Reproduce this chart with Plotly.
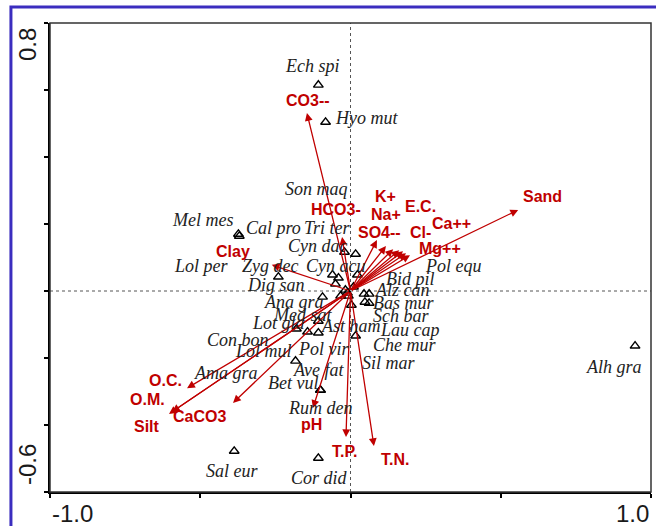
import plotly.graph_objects as go

# ---- Species scores (axis 1, axis 2) ----
species = ["Ech spi", "Hyo mut", "Mel mes", "Cal pro", "Son maq", "Tri ter",
           "Cyn dac", "Zyg dec", "Lol per", "Cyn acu", "Dig san", "Pol equ",
           "Bid pil", "Alz can", "Bas mur", "Sch bar", "Ana gra", "Lau cap",
           "Med sat", "Lot gla", "Con bon", "Lol mul", "Ast ham", "Che mur",
           "Pol vir", "Sil mar", "Ave fat", "Ama gra", "Bet vul", "Rum den",
           "Alh gra", "Sal eur", "Cor did"]
sp_x = [-0.107, -0.083, -0.373, -0.370, -0.020, 0.017,
        -0.060, -0.040, -0.050, 0.023, -0.240, 0.045,
        0.062, 0.048, 0.062, -0.007, -0.093, 0.003,
        -0.107, -0.180, -0.143, -0.107, 0.017, -0.017,
        -0.033, 0.010, -0.183, -0.010, -0.100, -0.100,
        0.947, -0.387, -0.107]
sp_y = [0.615, 0.504, 0.170, 0.164, 0.116, 0.110,
        0.048, 0.039, 0.021, 0.048, 0.042, -0.009,
        -0.009, -0.033, -0.036, -0.015, -0.018, -0.042,
        -0.090, -0.113, -0.122, -0.125, -0.134, 0.003,
        -0.015, 0.012, -0.209, -0.006, -0.296, -0.296,
        -0.164, -0.478, -0.499]

# ---- Environmental variable biplot scores ----
env = ["CO3--", "HCO3-", "Clay", "SO4--", "K+", "Na+", "E.C.", "Cl-", "Ca++",
       "Mg++", "Sand", "O.C.", "O.M.", "Silt", "CaCO3", "pH", "T.P.", "T.N."]
env_x = [-0.145, -0.028, -0.262, 0.088, 0.118, 0.142, 0.162, 0.175, 0.185,
         0.198, 0.558, -0.544, -0.594, -0.604, -0.391, -0.125, -0.015, 0.078]
env_y = [0.531, 0.161, 0.078, 0.152, 0.134, 0.125, 0.122, 0.119, 0.113,
         0.107, 0.242, -0.290, -0.361, -0.367, -0.334, -0.349, -0.436, -0.463]

# ---- Axis ticks ----
x_ticks = [-1.0, -0.5, 0.0, 0.5, 1.0]
y_ticks = [-0.6, -0.4, -0.2, 0.0, 0.2, 0.4, 0.6, 0.8]
x_range = [-1.0, 1.0]
y_range = [-0.6, 0.8]

# label placement (data units) for species names
sp_label_pos = {
    "Ech spi": (-0.127, 0.672), "Hyo mut": (0.052, 0.516), "Son maq": (-0.113, 0.304),
    "Mel mes": (-0.493, 0.212), "Cal pro": (-0.257, 0.188), "Tri ter": (-0.077, 0.188),
    "Cyn dac": (-0.110, 0.134), "Lol per": (-0.497, 0.075), "Zyg dec": (-0.267, 0.075),
    "Cyn acu": (-0.050, 0.075), "Pol equ": (0.343, 0.075), "Bid pil": (0.200, 0.036),
    "Alz can": (0.173, 0.003), "Dig san": (-0.247, 0.018), "Ana gra": (-0.187, -0.033),
    "Bas mur": (0.177, -0.036), "Med sat": (-0.160, -0.072), "Sch bar": (0.167, -0.075),
    "Lot gla": (-0.240, -0.096), "Ast ham": (0.000, -0.104), "Lau cap": (0.197, -0.116),
    "Con bon": (-0.373, -0.146), "Che mur": (0.180, -0.161), "Lol mul": (-0.290, -0.179),
    "Pol vir": (-0.090, -0.173), "Sil mar": (0.127, -0.215), "Ave fat": (-0.107, -0.236),
    "Ama gra": (-0.413, -0.245), "Bet vul": (-0.193, -0.275), "Rum den": (-0.100, -0.349),
    "Alh gra": (0.877, -0.227), "Sal eur": (-0.393, -0.537), "Cor did": (-0.103, -0.558),
}
# label placement (data units) for environmental variables
env_label_pos = {
    "CO3--": (-0.140, 0.570), "HCO3-": (-0.048, 0.242), "Clay": (-0.390, 0.119),
    "SO4--": (0.098, 0.176), "K+": (0.118, 0.281), "Na+": (0.118, 0.227),
    "E.C.": (0.232, 0.251), "Cl-": (0.232, 0.176), "Ca++": (0.335, 0.203),
    "Mg++": (0.298, 0.128), "Sand": (0.638, 0.281), "O.C.": (-0.617, -0.266),
    "O.M.": (-0.677, -0.325), "Silt": (-0.677, -0.403), "CaCO3": (-0.503, -0.376),
    "pH": (-0.130, -0.397), "T.P.": (-0.017, -0.478), "T.N.": (0.147, -0.504),
}

RED = "#c00000"
TXT = "#222222"

fig = go.Figure()

# species as open triangles
fig.add_trace(go.Scatter(
    x=sp_x, y=sp_y, mode="markers", hoverinfo="text", text=species,
    marker=dict(symbol="triangle-up-open", size=8.5, color="black",
                line=dict(width=1.4, color="black")),
    showlegend=False, cliponaxis=False))

annotations = []

# environmental arrows from the origin
for name, ex, ey in zip(env, env_x, env_y):
    annotations.append(dict(
        x=ex, y=ey, ax=0, ay=0, xref="x", yref="y", axref="x", ayref="y",
        showarrow=True, arrowhead=2, arrowsize=1.2, arrowwidth=1.3,
        arrowcolor=RED, standoff=0, startstandoff=0, text=""))

# species names (italic serif)
for name in species:
    lx, ly = sp_label_pos[name]
    annotations.append(dict(
        x=lx, y=ly, xref="x", yref="y", text="<i>%s</i>" % name, showarrow=False,
        font=dict(family="Liberation Serif", size=18, color=TXT),
        xanchor="center", yanchor="middle"))

# environmental variable names
for name in env:
    lx, ly = env_label_pos[name]
    annotations.append(dict(
        x=lx, y=ly, xref="x", yref="y", text="<b>%s</b>" % name, showarrow=False,
        font=dict(family="Liberation Sans", size=16, color=RED),
        xanchor="center", yanchor="middle"))

# axis end labels
tick_font = dict(family="Liberation Sans", size=24, color="#1a1a1a")
annotations += [
    dict(x=x_ticks[0], y=0, xref="x", yref="paper", yshift=-21, text="-1.0",
         showarrow=False, xanchor="left", yanchor="middle", font=tick_font),
    dict(x=x_ticks[-1], y=0, xref="x", yref="paper", yshift=-21, text="1.0",
         showarrow=False, xanchor="right", yanchor="middle", font=tick_font),
    dict(x=0, y=y_ticks[-1], xref="paper", yref="y", xshift=-23, yshift=-22,
         text="0.8", showarrow=False, textangle=-90, xanchor="center",
         yanchor="middle", font=tick_font),
    dict(x=0, y=y_ticks[0], xref="paper", yref="y", xshift=-23, yshift=27,
         text="-0.6", showarrow=False, textangle=-90, xanchor="center",
         yanchor="middle", font=tick_font),
]

shapes = [
    # dotted zero lines
    dict(type="line", xref="x", yref="y", x0=0, x1=0, y0=y_range[0], y1=y_range[1],
         line=dict(color="#555555", width=1, dash="dot"), layer="below"),
    dict(type="line", xref="x", yref="y", x0=x_range[0], x1=x_range[1], y0=0, y1=0,
         line=dict(color="#555555", width=1, dash="dot"), layer="below"),
    # plot frame
    dict(type="rect", xref="paper", yref="paper", x0=0, x1=1, y0=0, y1=1,
         line=dict(color="#333333", width=1.5)),
    # outer blue border
    dict(type="rect", xref="paper", yref="paper", x0=-0.065, x1=1.05, y0=-0.1, y1=1.034,
         line=dict(color="#3b2dbf", width=3)),
]

axis_common = dict(showgrid=False, zeroline=False, showline=True, linecolor="black",
                   linewidth=2, ticks="outside", ticklen=4, tickwidth=1.5,
                   tickcolor="black", showticklabels=False, fixedrange=True)

fig.update_layout(
    width=656, height=526,
    margin=dict(l=50, r=5, t=23, b=34),
    paper_bgcolor="white", plot_bgcolor="white",
    xaxis=dict(range=x_range, tickvals=x_ticks, **axis_common),
    yaxis=dict(range=y_range, tickvals=y_ticks, **axis_common),
    annotations=annotations, shapes=shapes,
)

fig.write_html("out.html")
